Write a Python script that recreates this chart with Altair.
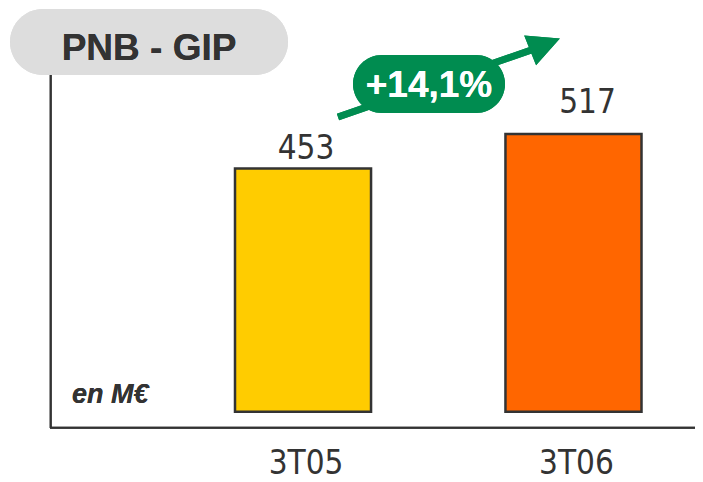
import altair as alt
import pandas as pd

categories = ["3T05", "3T06"]
values = [453, 517]
bar_colors = ["#FFCC00", "#FF6600"]
growth_label = "+14,1%"
title_text = "PNB - GIP"
unit_text = "en M€"

df = pd.DataFrame({"cat": categories, "val": values, "color": bar_colors})

W, H = 687, 474
NARROW = "'Liberation Sans Narrow', 'Arial Narrow', 'DejaVu Sans Condensed', 'Liberation Sans', sans-serif"
SANS = "'Liberation Sans', Arial, sans-serif"
DARK = "#333333"
GREEN = "#008C50"

xs = alt.X("cat:N", axis=None,
           scale=alt.Scale(domain=categories, range=[227, 633.5], paddingInner=0.497, paddingOuter=0))
ys = alt.Y("val:Q", axis=None,
           scale=alt.Scale(domain=[0, 600], range=[403.7, 81.44], nice=False, zero=True))

base = alt.Chart(df)

bars = base.mark_bar(stroke=DARK, strokeWidth=2.5).encode(
    x=xs, y=ys, color=alt.Color("color:N", scale=None)
)

lab1 = base.transform_filter(alt.datum.cat == categories[0]).mark_text(
    font=NARROW, fontSize=33, color=DARK, baseline="alphabetic", dx=3, dy=-9
).encode(x=xs, y=ys, text="val:Q")
lab2 = base.transform_filter(alt.datum.cat == categories[1]).mark_text(
    font=NARROW, fontSize=33, color=DARK, baseline="alphabetic", dx=14, dy=-21
).encode(x=xs, y=ys, text="val:Q")

cat_labels = base.mark_text(
    font=NARROW, fontSize=33, color=DARK, baseline="alphabetic", dx=3
).encode(x=xs, y=alt.value(466), text="cat:N")

# axis lines
vline = base.mark_rule(color=DARK, strokeWidth=2).encode(
    x=alt.value(42.7), y=alt.value(67), y2=alt.value(420)
)
hline = base.mark_rule(color=DARK, strokeWidth=2).encode(
    x=alt.value(42), x2=alt.value(W), y=alt.value(419.7)
)

# title box
title_box = base.mark_rect(fill="#DDDDDD", cornerRadius=33).encode(
    x=alt.value(2), x2=alt.value(280), y=alt.value(1), y2=alt.value(67)
)
title = base.mark_text(font=SANS, fontSize=37, fontWeight="bold", color=DARK,
                       baseline="alphabetic", align="center").encode(
    x=alt.value(141), y=alt.value(52), text=alt.value(title_text)
)

unit = base.mark_text(font=SANS, fontSize=27, fontWeight="bold", fontStyle="italic",
                      color=DARK, baseline="alphabetic", align="left").encode(
    x=alt.value(64), y=alt.value(395), text=alt.value(unit_text)
)

# growth arrow
arrow_line = base.mark_rule(color=GREEN, strokeWidth=7).encode(
    x=alt.value(330), y=alt.value(109), x2=alt.value(532), y2=alt.value(39)
)
arrow_head = base.mark_point(shape="M 1 0 L -1 -1 L -1 1 Z", filled=True, fill=GREEN,
                             opacity=1, strokeWidth=0, size=1024, angle=338.2).encode(
    x=alt.value(537), y=alt.value(36.5)
)
green_box = base.mark_rect(fill=GREEN, cornerRadius=29).encode(
    x=alt.value(345), x2=alt.value(497), y=alt.value(47), y2=alt.value(105)
)
green_text = base.mark_text(font=SANS, fontSize=37, fontWeight="bold", color="white",
                            baseline="alphabetic", align="center").encode(
    x=alt.value(421), y=alt.value(89), text=alt.value(growth_label)
)

chart = alt.layer(
    title_box, title, vline, hline, bars, lab1, lab2, cat_labels, unit,
    arrow_line, arrow_head, green_box, green_text
).properties(
    width=W, height=H, autosize=alt.AutoSizeParams(type="none"), padding=0,
    background="white"
).configure_view(stroke=None, strokeWidth=0)

chart.save("out.html", embed_options={"renderer": "svg", "actions": False})
